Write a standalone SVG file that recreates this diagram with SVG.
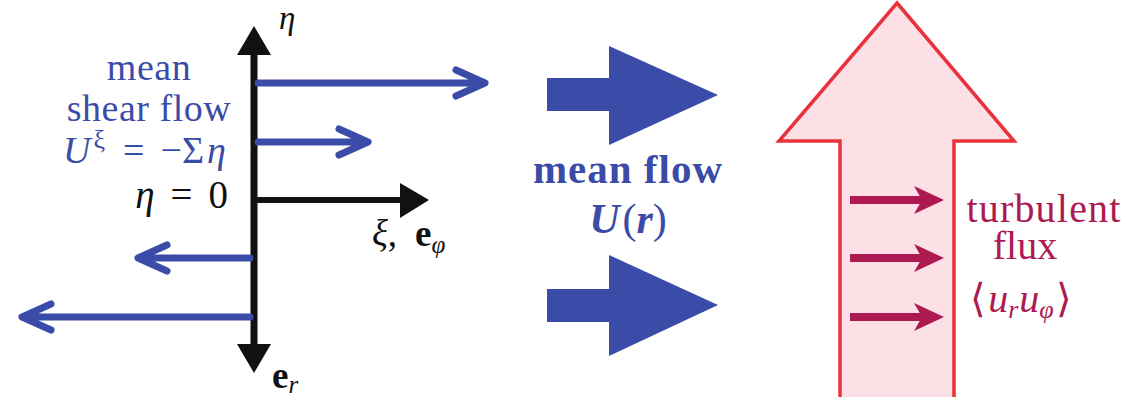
<svg xmlns="http://www.w3.org/2000/svg" width="1141" height="397" viewBox="0 0 1141 397">
<style>
text{font-family:"Liberation Serif","Times New Roman",serif;}
.blue{fill:#3b4ca8;}
.blk{fill:#111;}
.mag{fill:#ad1a52;}
.bl{stroke:#3b4ca8;stroke-width:7;fill:none;stroke-linecap:round;stroke-linejoin:round;}
.ax{stroke:#111;fill:none;}
.mg{stroke:#ad1a52;stroke-width:8;fill:none;}
.it{font-style:italic;}
</style>
<rect width="1141" height="397" fill="#fff"/>
<g id="flux-arrow">
<path d="M897,3 L1014,141 L954,141 L954,400 L840,400 L840,141 L779,141 Z" fill="#fde0e6" stroke="#e8323c" stroke-width="3.5" stroke-linejoin="miter"/>
</g>
<g id="connectors">
<line class="ax" x1="254" y1="52" x2="254" y2="347" stroke-width="7"/>
<polygon points="254,26 237,55 271,55" fill="#111"/>
<polygon points="254,373 237,344 271,344" fill="#111"/>
<line class="ax" x1="254" y1="200" x2="404" y2="200" stroke-width="6"/>
<polygon points="429,200 400,183 400,218" fill="#111"/>
<path class="bl" d="M258,83 H483 M456,70 L485,83 L456,96"/>
<path class="bl" d="M258,142 H366 M339,129 L368,142 L339,155"/>
<path class="bl" d="M250,258 H141 M167,245 L138,258 L167,271"/>
<path class="bl" d="M250,317 H25 M51,304 L22,317 L51,330"/>
<rect x="547" y="78" width="64" height="33" fill="#3b4ca8"/>
<polygon points="609,46 718,95 609,145" fill="#3b4ca8"/>
<rect x="547" y="289" width="64" height="33" fill="#3b4ca8"/>
<polygon points="609,255 718,305 609,356" fill="#3b4ca8"/>
<g class="mg">
<line x1="850" y1="200" x2="930" y2="200"/>
<line x1="850" y1="258" x2="930" y2="258"/>
<line x1="850" y1="317" x2="930" y2="317"/>
</g>
<polygon points="944,200 914,186 922,200 914,214" fill="#ad1a52"/>
<polygon points="944,258 914,244 922,258 914,272" fill="#ad1a52"/>
<polygon points="944,317 914,303 922,317 914,331" fill="#ad1a52"/>
</g>
<g id="label-eta" class="blk" font-size="33"><text x="279" y="29" class="it">η</text></g>
<g id="label-shear" class="blue" font-size="38" text-anchor="middle">
<text x="149" y="80" letter-spacing="0.5">mean</text>
<text x="149" y="121" letter-spacing="0.5">shear flow</text>
<text x="63" y="163" text-anchor="start"><tspan class="it">U</tspan><tspan dx="3" dy="-15" font-size="26">ξ</tspan><tspan dx="18" dy="15">=</tspan><tspan dx="16">−Σ</tspan><tspan class="it" dx="3">η</tspan></text>
</g>
<g id="label-eta0" class="blk" font-size="39"><text x="228" y="208" text-anchor="end"><tspan class="it">η</tspan><tspan dx="16">=</tspan><tspan dx="16">0</tspan></text></g>
<g id="label-xi" class="blk" font-size="37"><text x="372" y="246"><tspan class="it">ξ</tspan>,<tspan dx="18" font-weight="bold">e</tspan><tspan class="it" font-size="25" dy="7">φ</tspan></text></g>
<g id="label-er" class="blk" font-size="37"><text x="272" y="388"><tspan font-weight="bold">e</tspan><tspan class="it" font-size="25" dy="5">r</tspan></text></g>
<g id="label-meanflow" class="blue" font-weight="bold" text-anchor="middle">
<text x="628" y="183" font-size="41" letter-spacing="1">mean flow</text>
<text x="628" y="233" font-size="42"><tspan class="it">U</tspan><tspan dx="3" font-weight="normal">(</tspan><tspan class="it">r</tspan><tspan font-weight="normal">)</tspan></text>
</g>
<g id="label-turb" class="mag" font-size="40" text-anchor="middle">
<text x="1044" y="222" letter-spacing="1.2">turbulent</text>
<text x="1025" y="259">flux</text>
<text x="1021" y="312"><tspan>⟨</tspan><tspan class="it" dx="2">u</tspan><tspan class="it" font-size="26" dy="6">r</tspan><tspan class="it" dy="-6" dx="1">u</tspan><tspan class="it" font-size="26" dy="6">φ</tspan><tspan dy="-6" dx="2">⟩</tspan></text>
</g>
</svg>
